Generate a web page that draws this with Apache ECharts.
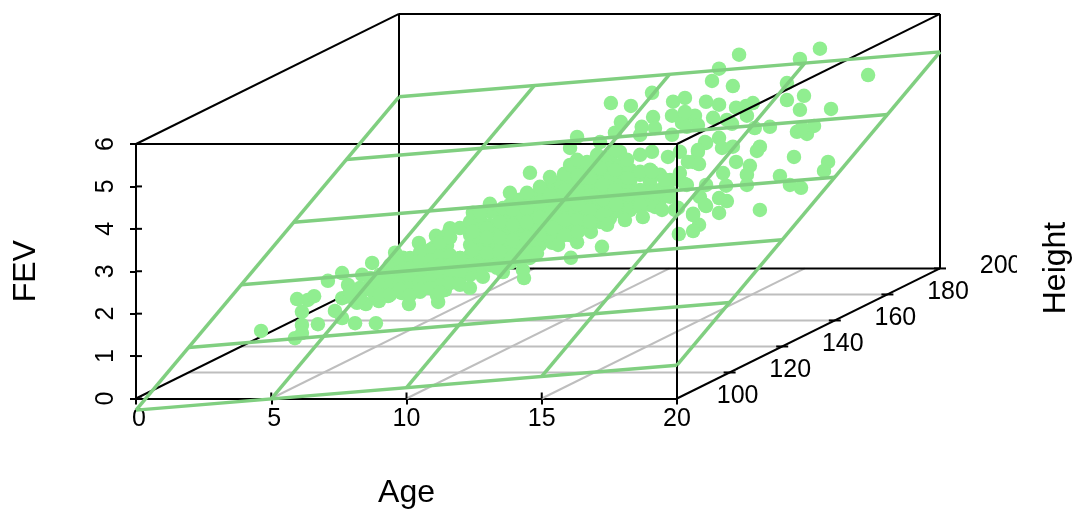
<!DOCTYPE html>
<html>
<head>
<meta charset="utf-8">
<script src="https://cdn.jsdelivr.net/npm/echarts@6/dist/echarts.min.js"></script>
<style>html,body{margin:0;padding:0;background:#fff}#chart{width:1075px;height:509px}</style>
</head>
<body>
<div id="chart"></div>
<script>
// Axis ticks
const ageTicks = [0, 5, 10, 15, 20];
const fevTicks = [0, 1, 2, 3, 4, 5, 6];
const heightTicks = [100, 120, 140, 160, 180];
const heightLabels = [100, 120, 140, 160, 180, 200];
const heightPlaneLines = [80, 100, 120, 140, 160, 180];
const heightFront = 80, heightBack = 180, ageMax = 20, fevMax = 6;

// Fitted plane FEV = b0 + bAge*age + bHeight*height
const planeB0 = -3.73, planeBAge = 0.053, planeBHeight = 0.0432;

const ageH100 = [2.68,3.93,4.19,4.19,4.19,4.01,4.41,4.64,4.78,5.15,5.41];
const fevH100 = [0.98,0.81,1.12,0.93,1.43,1.73,1.71,1.80,1.14,2.16,1.45];

const ageH120 = [3.73,3.73,3.73,3.95,4.02,4.21,4.28,4.39,4.47,4.61,4.84,4.98,5.09,5.13,5.43,5.43,5.61,5.69,5.94,5.98,6.13,6.20,6.35,6.57,6.61,6.72,6.72,7.09,7.20,7.24,7.24,7.28,7.61,7.61,7.72,4.76,5.69,6.24,5.87,6.98,7.35,6.98,7.53,7.53,5.13,4.95,6.24,6.80,7.16,6.42];
const fevH120 = [1.73,0.67,1.14,1.45,1.17,0.55,1.03,1.38,1.69,1.00,1.97,0.55,1.07,1.38,1.19,1.73,1.52,2.21,1.26,2.09,1.69,1.00,1.38,2.44,1.29,2.09,1.62,2.32,2.61,1.92,1.21,1.05,2.63,2.39,2.79,1.45,1.80,1.92,1.57,1.80,1.57,1.45,1.99,1.33,1.69,1.21,1.45,1.85,2.16,1.80];

const ageH130 = [3.05,3.42,3.42,3.79,3.79,4.16,4.16,4.16,4.53,4.53,4.53,4.53,4.90,4.90,4.90,4.90,5.27,5.27,5.27,5.27,5.27,5.64,5.64,5.64,5.64,5.64,6.01,6.01,6.01,6.01,6.01,6.38,6.38,6.38,6.38,6.38,6.38,6.75,6.75,6.75,6.75,6.75,7.12,7.12,7.12,7.49,7.49,7.49,7.49,7.49,7.49,7.86,7.86,7.86,7.86,7.86,7.86,8.23,8.23,8.23,8.23,8.23,8.23,8.60,8.60,8.60,8.60,8.60,8.60,8.96,8.96,8.96,8.96,8.96,8.96,9.33,9.33,9.33,9.33,9.33,9.33,9.33,9.70,9.70,9.70,9.70,9.70,9.70,9.70,10.07,10.07,10.07,10.07,10.07,10.07,10.44,10.44,10.44,10.44,10.44,10.44,10.81,10.81,10.81,10.81,10.81,10.81,11.18,11.18,11.18,11.18,11.18,11.18,11.18,11.55,11.55,11.55,11.55,11.55,11.55,11.92,11.92,11.92,11.92,11.92,11.92,11.92,12.29,12.29,12.29,12.29,12.29,12.29,12.29,12.66,12.66,12.66,12.66,12.66,12.66,12.66,13.03,13.03,13.03,13.03,13.03,13.03,13.03,13.40,13.40,13.40,13.40,13.40,13.77,13.77,13.77,14.14,14.14,14.14,14.14,14.51,14.51,14.51,14.88,14.88];
const fevH130 = [0.98,1.03,0.84,1.31,1.03,1.38,1.14,0.91,1.61,1.38,1.14,0.91,1.69,1.45,1.21,1.03,1.78,1.54,1.31,1.07,0.91,1.92,1.69,1.45,1.21,1.03,1.97,1.73,1.50,1.26,1.07,1.85,1.61,1.38,1.14,0.98,2.14,2.26,1.85,1.61,1.38,1.19,1.78,1.54,1.31,2.56,2.32,2.09,1.85,1.61,1.38,2.68,2.44,2.21,1.97,1.73,1.50,2.87,2.56,2.32,2.09,1.85,1.61,2.72,2.49,2.25,2.02,1.78,1.59,3.03,2.79,2.56,2.32,2.09,1.85,3.15,2.91,2.68,2.44,2.21,1.97,1.73,3.20,2.96,2.72,2.49,2.25,2.02,1.78,3.34,3.03,2.79,2.56,2.32,2.09,3.43,3.20,2.96,2.72,2.49,2.25,3.57,3.34,3.10,2.87,2.63,2.39,3.74,3.50,3.27,3.03,2.79,2.56,2.32,3.86,3.57,3.34,3.10,2.87,2.63,3.90,3.67,3.43,3.20,2.96,2.72,2.53,4.04,3.81,3.57,3.34,3.10,2.87,2.63,4.14,3.90,3.67,3.43,3.20,2.96,2.72,4.28,3.97,3.74,3.50,3.27,3.03,2.87,3.86,3.57,3.34,3.10,2.91,3.74,3.27,2.98,3.86,3.57,3.27,3.03,3.74,3.38,3.15,3.62,3.34];

const ageH140 = [6.14,6.14,6.14,6.14,6.51,6.51,6.62,6.62,6.62,6.62,6.99,6.88,7.14,7.14,7.14,7.25,7.51,7.62,7.62,7.62,7.73,7.73,7.99,8.10,8.10,8.10,8.10,7.99,8.51,8.47,8.62,8.62,8.62,8.62,8.62,8.73,8.99,9.10,9.10,9.10,9.10,9.47,9.47,9.55,9.55,9.55,9.77];
const fevH140 = [2.18,1.47,1.14,0.84,0.77,2.32,2.54,2.09,1.66,1.31,1.03,2.54,2.18,1.95,1.59,2.75,1.24,2.32,1.95,1.62,1.14,2.65,3.01,2.61,2.25,1.90,1.54,1.36,1.00,1.19,3.01,2.65,2.32,1.95,1.62,3.48,1.59,3.15,2.79,2.42,2.02,3.38,2.96,2.56,2.18,1.83,1.78];

const ageH150 = [9.02,9.24,9.24,9.50,9.50,9.27,9.50,9.87,9.05,9.05,9.05,9.05,9.53,9.53,9.53,9.53,9.53,10.01,9.98,9.98,9.98,9.98,10.24,10.35,10.35,10.42,10.46,10.46,10.46,10.61,10.75,10.90,10.90,10.90,10.90,10.94,11.27,11.12,11.35,11.38,11.38,11.49,11.83,11.83,11.83,11.83,11.83,11.89,11.93,12.27,12.31,12.27,12.27,12.27,12.38,12.38,12.64,12.75,12.86,12.79,13.01,13.05,12.94,13.01,13.12,13.26,13.23,13.23,13.30,13.30];
const fevH150 = [3.15,3.76,3.36,4.02,1.54,1.17,3.48,3.43,2.77,2.42,2.06,1.71,3.12,2.77,2.42,2.06,1.78,1.78,3.05,2.65,2.30,2.02,3.60,3.90,3.29,1.43,2.89,2.54,2.18,1.95,4.82,4.12,3.71,3.24,2.77,2.42,2.06,4.37,3.48,3.05,2.65,4.75,3.60,4.07,3.20,2.77,2.42,4.26,2.13,5.06,4.49,3.67,3.20,2.72,4.23,2.37,2.30,3.01,3.55,2.65,4.52,4.85,2.61,4.07,2.30,1.73,2.35,3.01,3.67,3.17];

const ageH165 = [14.03,17.02,16.28,18.80,13.29,13.03,13.80,15.80,15.80,16.43,16.28,17.43,12.03,12.81,13.29,13.92,14.54,14.29,13.07,14.32,13.58,13.77,14.61,15.17,16.17,16.54,16.80,16.35,12.40,12.51,12.03,11.92,12.10,13.29,12.81,13.40,13.80,12.51,14.80,14.69,16.06,17.32,17.17,13.92,14.43,14.32,14.32,15.54,15.91,16.32,13.44,12.33,12.55,13.55,12.81,12.03,13.58,13.29,12.81,12.58,13.29,14.80,12.33,12.55,12.33,12.14,12.77,12.51,12.77,12.10,12.03,12.33];
const fevH165 = [5.50,5.64,5.40,5.02,5.17,4.88,4.76,4.83,4.43,4.53,4.20,4.22,4.48,4.39,4.32,4.25,4.36,4.29,4.01,4.06,3.96,3.87,3.77,3.80,3.68,3.63,3.82,3.77,4.06,3.84,4.08,3.89,3.80,3.54,3.42,3.30,3.33,3.21,3.33,3.23,3.09,2.97,2.76,2.97,2.88,2.67,2.43,2.64,2.43,2.36,2.71,2.97,2.92,2.41,2.43,2.45,2.05,2.12,1.93,2.15,1.77,1.84,1.75,1.49,1.34,2.97,3.44,3.25,1.96,2.43,4.15,1.72];

const heightGroups = [
  {height: 100, ages: ageH100, fevs: fevH100},
  {height: 120, ages: ageH120, fevs: fevH120},
  {height: 130, ages: ageH130, fevs: fevH130},
  {height: 140, ages: ageH140, fevs: fevH140},
  {height: 150, ages: ageH150, fevs: fevH150},
  {height: 165, ages: ageH165, fevs: fevH165}
];

// Oblique projection: each unit of height shifts a point along the floor diagonal,
// expressed in age-axis and FEV-axis units.
const depthAgePerHeight = 0.09723, depthFevPerHeight = 0.03066;
function proj(age, height, fev) {
  const d = height - heightFront;
  return [age + d * depthAgePerHeight, fev + d * depthFevPerHeight];
}
function seg(a, b) { return a.concat(b); }
function plane(age, h) { return planeB0 + planeBAge * age + planeBHeight * h; }

const points = [];
heightGroups.forEach(g => g.ages.forEach((a, i) => points.push(proj(a, g.height, g.fevs[i]))));

const backBox = [
  seg(proj(0, heightBack, 0), proj(0, heightBack, fevMax)),
  seg(proj(0, heightBack, fevMax), proj(ageMax, heightBack, fevMax)),
  seg(proj(ageMax, heightBack, fevMax), proj(ageMax, heightBack, 0)),
  seg(proj(ageMax, heightBack, 0), proj(0, heightBack, 0)),
  seg(proj(0, heightFront, 0), proj(0, heightBack, 0)),
  seg(proj(0, heightFront, fevMax), proj(0, heightBack, fevMax))
];
const frontBox = [
  seg(proj(0, heightFront, fevMax), proj(ageMax, heightFront, fevMax)),
  seg(proj(ageMax, heightFront, fevMax), proj(ageMax, heightFront, 0)),
  seg(proj(ageMax, heightFront, 0), proj(ageMax, heightBack, 0)),
  seg(proj(ageMax, heightFront, fevMax), proj(ageMax, heightBack, fevMax))
];
const floorGrid = [];
ageTicks.slice(1, -1).forEach(a => floorGrid.push(seg(proj(a, heightFront, 0), proj(a, heightBack, 0))));
heightTicks.slice(0, -1).forEach(h => floorGrid.push(seg(proj(0, h, 0), proj(ageMax, h, 0))));
const planeGrid = [];
ageTicks.forEach(a => planeGrid.push(seg(proj(a, heightFront, plane(a, heightFront)), proj(a, heightBack, plane(a, heightBack)))));
heightPlaneLines.forEach(h => planeGrid.push(seg(proj(0, h, plane(0, h)), proj(ageMax, h, plane(ageMax, h)))));

function segments(name, data, color, width, z) {
  return {
    type: 'custom', name, data, z, silent: true, animation: false, clip: false,
    encode: {x: [0, 2], y: [1, 3]},
    renderItem(params, api) {
      const p = api.coord([api.value(0), api.value(1)]);
      const q = api.coord([api.value(2), api.value(3)]);
      return {type: 'line', shape: {x1: p[0], y1: p[1], x2: q[0], y2: q[1]},
              style: {stroke: color, lineWidth: width, fill: null}};
    }
  };
}
function tickMarks(name, data, dx1, dy1, dx2, dy2) {
  return {
    type: 'custom', name, data, z: 5, silent: true, animation: false, clip: false,
    encode: {x: 0, y: 1},
    renderItem(params, api) {
      const p = api.coord([api.value(0), api.value(1)]);
      return {type: 'line', shape: {x1: p[0] + dx1, y1: p[1] + dy1, x2: p[0] + dx2, y2: p[1] + dy2},
              style: {stroke: '#000', lineWidth: 2, fill: null}};
    }
  };
}
const FONT = '"Liberation Sans", Arial, sans-serif';
const TICK_SIZE = 25, TITLE_SIZE = 32;

const chart = echarts.init(document.getElementById('chart'), null, {renderer: 'canvas'});
chart.setOption({
  animation: false,
  backgroundColor: '#fff',
  grid: {left: 136, width: 541, top: 144, height: 254.5, containLabel: false, outerBoundsMode: 'none'},
  xAxis: {
    type: 'value', min: 0, max: ageMax, interval: 5, splitLine: {show: false},
    name: 'Age', nameLocation: 'middle', nameGap: 79,
    nameTextStyle: {fontFamily: FONT, fontSize: TITLE_SIZE, color: '#000'},
    axisLine: {show: true, onZero: false, lineStyle: {color: '#000', width: 2}},
    axisTick: {show: true, length: 6, lineStyle: {color: '#000', width: 2}},
    axisLabel: {
      fontFamily: FONT, fontSize: TICK_SIZE, color: '#000', margin: 8,
      formatter: v => v < 10 ? '{s|' + v + '}' : String(v),
      rich: {s: {fontFamily: FONT, fontSize: TICK_SIZE, color: '#000', padding: [0, 0, 0, 6]}}
    }
  },
  yAxis: {
    type: 'value', min: 0, max: fevMax, interval: 1, splitLine: {show: false},
    name: 'FEV', nameLocation: 'middle', nameGap: 94, nameRotate: 90,
    nameTextStyle: {fontFamily: FONT, fontSize: TITLE_SIZE, color: '#000'},
    axisLine: {show: true, onZero: false, lineStyle: {color: '#000', width: 2}},
    axisTick: {show: true, length: 6, lineStyle: {color: '#000', width: 2}},
    axisLabel: {fontFamily: FONT, fontSize: TICK_SIZE, color: '#000', rotate: 90, margin: 30, align: 'center', verticalAlign: 'middle'}
  },
  graphic: [
    {type: 'rect', z: 100, silent: true, shape: {x: 1017, y: 245, width: 20, height: 45}, style: {fill: '#fff'}},
    {type: 'text', z: 101, silent: true, x: 1056, y: 268, rotation: Math.PI / 2,
     style: {text: 'Height', fontFamily: FONT, fontSize: TITLE_SIZE, fill: '#000', align: 'center', verticalAlign: 'middle'}}
  ],
  series: [
    segments('floor grid', floorGrid, '#BEBEBE', 2, 1),
    segments('back box', backBox, '#000', 2, 2),
    {type: 'scatter', name: 'observations', data: points, symbolSize: 14.5, clip: false, z: 3, silent: true,
     animation: false, itemStyle: {color: '#90EE90', opacity: 1}},
    segments('front box', frontBox, '#000', 2, 4),
    tickMarks('age ticks', ageTicks.map(a => [a, 0]), 0, 0, 0, -6),
    tickMarks('fev ticks', fevTicks.map(f => [0, f]), 0, 0, 6, 0),
    tickMarks('height ticks', heightTicks.map(h => proj(ageMax, h, 0)), -6, 0, 6, 0),
    segments('fitted plane', planeGrid, '#80CF80', 3.5, 6),
    {
      type: 'custom', name: 'height labels', data: heightLabels.map(h => proj(ageMax, h, 0).concat(h)),
      z: 7, silent: true, animation: false, clip: false, encode: {x: 0, y: 1},
      renderItem(params, api) {
        const p = api.coord([api.value(0), api.value(1)]);
        return {type: 'text', x: p[0] + 8, y: p[1] + 24,
                style: {text: String(api.value(2)), fontFamily: FONT, fontSize: TICK_SIZE, fill: '#000',
                        align: 'center', verticalAlign: 'middle'}};
      }
    }
  ]
});
</script>
</body>
</html>
